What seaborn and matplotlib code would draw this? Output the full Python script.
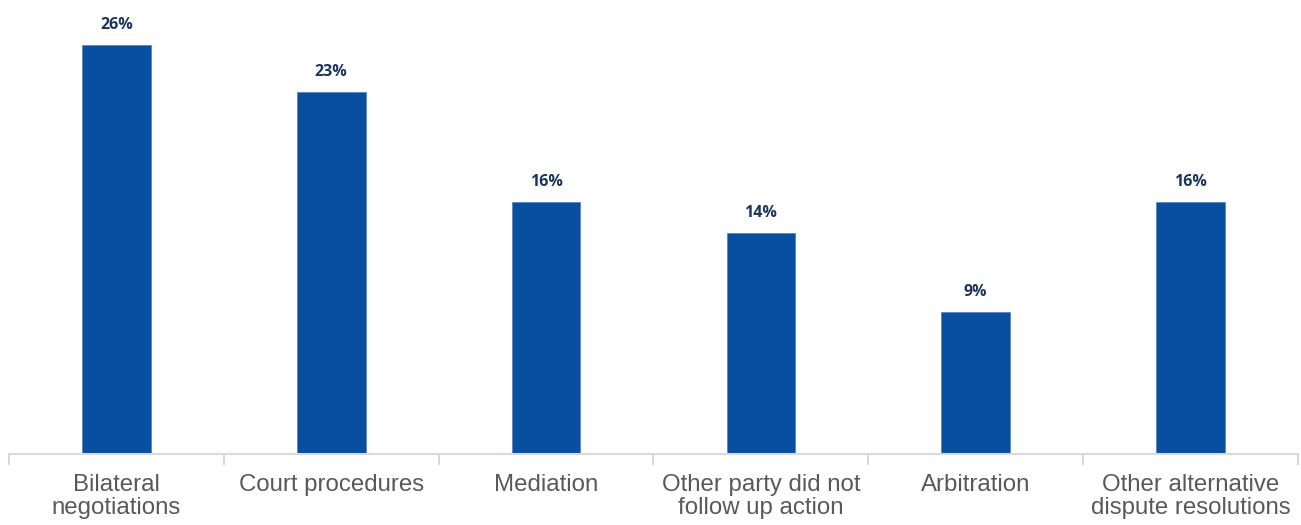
import matplotlib
matplotlib.use("Agg")
import matplotlib.pyplot as plt
import seaborn as sns
import pandas as pd
import numpy as np

categories = ["Bilateral\nnegotiations", "Court procedures", "Mediation",
              "Other party did not\nfollow up action", "Arbitration",
              "Other alternative\ndispute resolutions"]
values = [26, 23, 16, 14, 9, 16]
labels = ["26%", "23%", "16%", "14%", "9%", "16%"]

sns.set_style("white")
plt.rcParams['font.family'] = ['Liberation Sans', 'DejaVu Sans']

df = pd.DataFrame({"cat": categories, "val": values})

fig = plt.figure(figsize=(13.01, 5.25), dpi=100)
ax = fig.add_axes([9/1301, 71.5/525, 1289/1301, 453.5/525])

sns.barplot(data=df, x="cat", y="val", color="#08509F", saturation=1,
            width=0.32, ax=ax, edgecolor="#5a86c0", linewidth=0.6)

ax.set_xlim(-0.5, len(categories) - 0.5)
ax.set_ylim(0, 453.5 / 15.715)
ax.set_xlabel("")
ax.set_ylabel("")
ax.set_yticks([])

for s in ["top", "right", "left"]:
    ax.spines[s].set_visible(False)
ax.spines["bottom"].set_color("#d9d9d9")
ax.spines["bottom"].set_linewidth(1.5)

ax.set_xticks(range(len(categories)))
ax.set_xticklabels(categories, fontsize=17.3, color="#595959", linespacing=1.06)
ax.tick_params(axis="x", which="major", length=0, pad=15, bottom=True)
ax.set_xticks(np.arange(-0.5, len(categories), 1.0), minor=True)
ax.tick_params(axis="x", which="minor", length=8, width=1.5, color="#d9d9d9",
               bottom=True)

for i, (v, t) in enumerate(zip(values, labels)):
    ax.annotate(t, (i, v), xytext=(0, 14.5), textcoords="offset points",
                ha="center", va="center", fontsize=11.5, fontweight="bold",
                color="#1b365d", family=["Open Sans", "DejaVu Sans"])

fig.savefig("out.png", dpi=100)
